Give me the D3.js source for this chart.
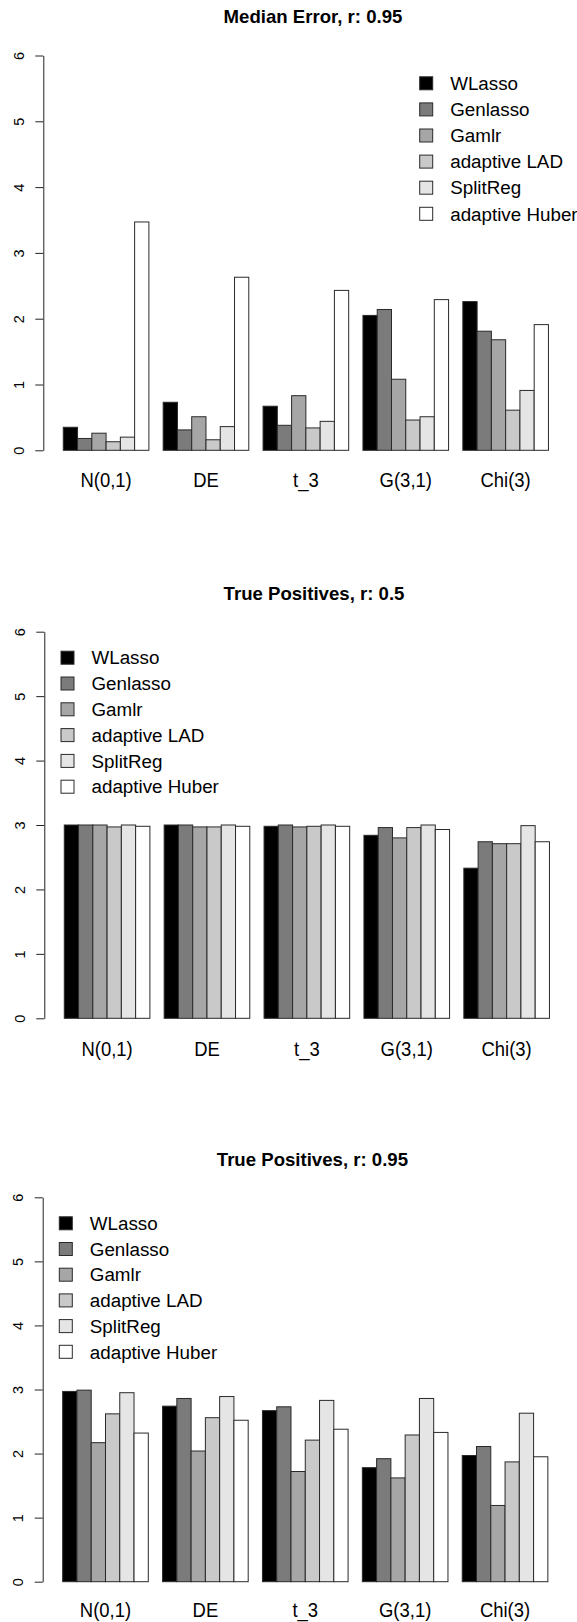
<!DOCTYPE html>
<html>
<head>
<meta charset="utf-8">
<script src="https://cdn.jsdelivr.net/npm/d3@7"></script>
<style>
	body { margin: 0; background: #fff; }
	text { font-family: "Liberation Sans", Arial, Helvetica, sans-serif; fill: #000; }
</style>
</head>
<body>
<div id="chart"></div>
<script>
var categories = ["N(0,1)", "DE", "t_3", "G(3,1)", "Chi(3)"];
var methods = ["WLasso", "Genlasso", "Gamlr", "adaptive LAD", "SplitReg", "adaptive Huber"];
var fills = ["#000000", "#7b7b7b", "#a6a6a6", "#c9c9c9", "#e5e5e5", "#ffffff"];
var yTicks = [0, 1, 2, 3, 4, 5, 6];

// one row per method, one value per category
var medianError095 = [
	[0.35, 0.73, 0.67, 2.05, 2.26],
	[0.18, 0.31, 0.38, 2.14, 1.81],
	[0.26, 0.51, 0.83, 1.08, 1.68],
	[0.13, 0.16, 0.34, 0.46, 0.61],
	[0.20, 0.36, 0.44, 0.51, 0.91],
	[3.47, 2.63, 2.43, 2.29, 1.91]
];
var truePos05 = [
	[3.00, 3.00, 2.98, 2.84, 2.33],
	[3.00, 3.00, 3.00, 2.96, 2.74],
	[3.00, 2.97, 2.97, 2.80, 2.71],
	[2.97, 2.97, 2.98, 2.96, 2.71],
	[3.00, 3.00, 3.00, 3.00, 2.99],
	[2.98, 2.98, 2.98, 2.93, 2.74]
];
var truePos095 = [
	[2.97, 2.74, 2.67, 1.78, 1.97],
	[2.99, 2.86, 2.73, 1.92, 2.11],
	[2.17, 2.04, 1.72, 1.62, 1.19],
	[2.62, 2.56, 2.21, 2.29, 1.87],
	[2.95, 2.89, 2.83, 2.86, 2.63],
	[2.32, 2.52, 2.38, 2.33, 1.95]
];

var panels = [
	{title: "Median Error, r: 0.95", data: medianError095, axisX: 43.3, y0: 450.3, y6: 55.5, titleY: 22.7, labelOff: 37, legX: 419.7, legY: 83.3, legStep: 26.1},
	{title: "True Positives, r: 0.5", data: truePos05, axisX: 44.3, y0: 1018.3, y6: 631.7, titleY: 599.5, labelOff: 37.4, legX: 61, legY: 657.7, legStep: 25.8},
	{title: "True Positives, r: 0.95", data: truePos095, axisX: 42.7, y0: 1581.7, y6: 1197.3, titleY: 1166, labelOff: 35.4, legX: 59.3, legY: 1223.3, legStep: 25.7}
];

var unit = 14.27;

var svg = d3.select("#chart")
	.append("svg")
	.attr("width", 577)
	.attr("height", 1622);

svg.append("rect").attr("width", 577).attr("height", 1622).attr("fill", "#fff");

panels.forEach(drawPanel);

function drawPanel(p) {
	var g = svg.append("g");

	// bar positions in R barplot units: 6 bars per group, one unit of space
	var x = d3.scaleLinear()
		.domain([-0.4, 37.4])
		.range([p.axisX, p.axisX + 37.8 * unit]);
	var y = d3.scaleLinear()
		.domain([0, 6])
		.range([p.y0, p.y6]);

	var bars = [];
	p.data.forEach(function (row, m) {
		row.forEach(function (v, c) {
			bars.push({m: m, c: c, value: v, pos: 1 + c * 7 + m});
		});
	});

	g.selectAll("rect.bar")
		.data(bars)
		.enter().append("rect")
		.attr("class", "bar")
		.attr("x", function (d) { return x(d.pos); })
		.attr("width", function (d) { return x(d.pos + 1) - x(d.pos); })
		.attr("y", function (d) { return y(d.value); })
		.attr("height", function (d) { return y(0) - y(d.value); })
		.attr("fill", function (d) { return fills[d.m]; })
		.attr("stroke", "#2a2a2a")
		.attr("stroke-width", 1);

	var axis = g.append("g")
		.attr("transform", "translate(" + p.axisX + ",0)")
		.call(d3.axisLeft(y).tickValues(yTicks).tickSize(8).tickSizeOuter(0).tickFormat(d3.format("d")));
	axis.select(".domain").attr("stroke", "#222");
	axis.selectAll(".tick line").attr("stroke", "#222");
	axis.selectAll(".tick text")
		.attr("transform", "rotate(-90)")
		.attr("x", 0)
		.attr("y", -19.5)
		.attr("dy", 0)
		.attr("text-anchor", "middle")
		.style("font-size", "14.5px")
		.style("font-family", "\"Liberation Sans\", Arial, sans-serif")
		.attr("fill", "#000");

	// group names, slightly condensed like the original
	g.selectAll("text.cat")
		.data(categories)
		.enter().append("text")
		.attr("class", "cat")
		.attr("transform", function (d, i) {
			return "translate(" + x(1 + i * 7 + 3) + "," + (p.y0 + p.labelOff) + ") scale(0.9,1)";
		})
		.attr("text-anchor", "middle")
		.style("font-size", "20.5px")
		.text(function (d) { return d; });

	g.append("text")
		.attr("x", (x.range()[0] + x.range()[1]) / 2)
		.attr("y", p.titleY)
		.attr("text-anchor", "middle")
		.style("font-size", "18.6px")
		.style("font-weight", "bold")
		.text(p.title);

	var leg = g.selectAll("g.leg")
		.data(methods)
		.enter().append("g")
		.attr("class", "leg")
		.attr("transform", function (d, i) {
			return "translate(" + p.legX + "," + (p.legY + i * p.legStep) + ")";
		});
	leg.append("rect")
		.attr("x", 0)
		.attr("y", -6.5)
		.attr("width", 13)
		.attr("height", 13)
		.attr("fill", function (d, i) { return fills[i]; })
		.attr("stroke", "#2a2a2a");
	leg.append("text")
		.attr("x", 30.5)
		.attr("y", 0)
		.attr("dy", "0.36em")
		.style("font-size", "18.8px")
		.text(function (d) { return d; });
}
</script>
</body>
</html>
